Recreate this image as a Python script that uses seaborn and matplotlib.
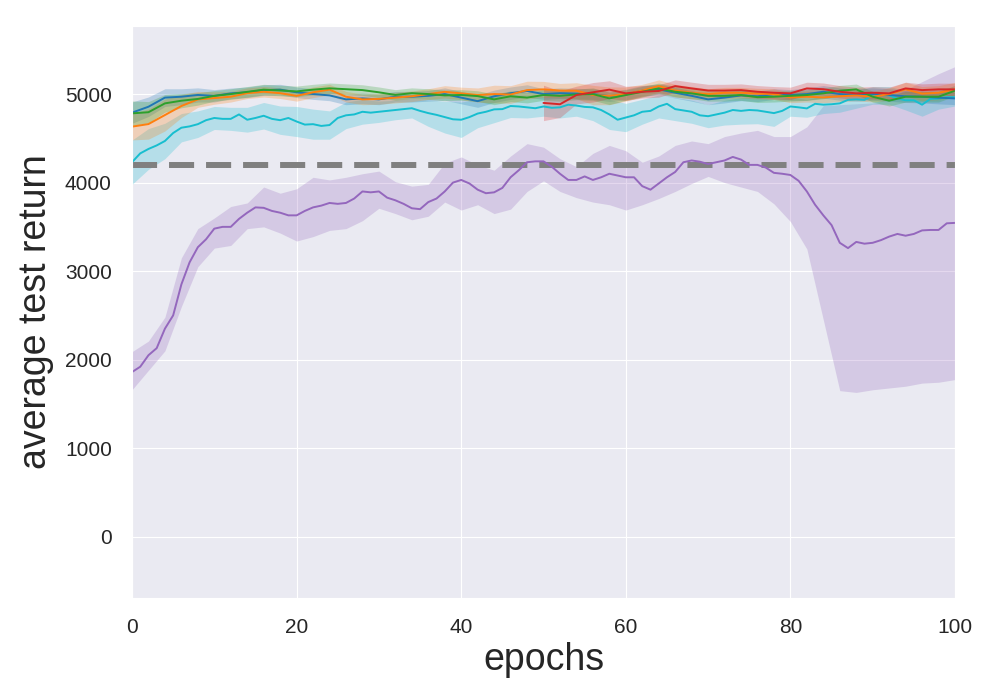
import numpy as np
import pandas as pd
import matplotlib
matplotlib.use("Agg")
import matplotlib.pyplot as plt
import seaborn as sns

sns.set_style("darkgrid")
plt.rcParams['font.family'] = ['Liberation Sans', 'DejaVu Sans']

# === 데이터 ===
epochs_1 = list(range(0, 101))        # 1 epoch 간격
epochs_2 = list(range(0, 101, 2))     # 2 epoch 간격
epochs_red = list(range(50, 101, 2))  # red 는 50 부터 시작

purple_mean = [
    1860, 1920, 2050, 2130, 2350, 2500, 2850, 3100, 3270, 3360,
    3480, 3500, 3500, 3590, 3660, 3720, 3715, 3680, 3660, 3630,
    3630, 3680, 3720, 3740, 3770, 3760, 3770, 3820, 3900, 3890,
    3900, 3830, 3800, 3760, 3710, 3700, 3780, 3820, 3900, 4000,
    4030, 3990, 3920, 3880, 3890, 3940, 4060, 4140, 4230, 4240,
    4240, 4180, 4100, 4030, 4030, 4070, 4030, 4060, 4100, 4080,
    4060, 4060, 3960, 3920, 3990, 4060, 4120, 4230, 4250, 4236,
    4210, 4230, 4250, 4290, 4260, 4200, 4200, 4170, 4110, 4100,
    4086, 4020, 3900, 3750, 3630, 3520, 3320, 3260, 3330, 3310,
    3320, 3350, 3390, 3420, 3400, 3420, 3460, 3465, 3465, 3540,
    3545,
]
purple_lo = [
    1660, 1880, 2100, 2600, 3050, 3260, 3290, 3480, 3500, 3430,
    3340, 3390, 3460, 3480, 3570, 3710, 3650, 3580, 3620, 3780,
    3690, 3750, 3650, 3700, 3900, 4020, 3900, 3830, 3780, 3750,
    3690, 3750, 3820, 3900, 3990, 4070, 4000, 3950, 3900, 3760,
    3560, 3250, 2450, 1650, 1630, 1660, 1680, 1700, 1735, 1745,
    1775,
]
purple_hi = [
    2090, 2210, 2480, 3150, 3480, 3600, 3730, 3770, 3950, 3880,
    3930, 4060, 4030, 4060, 4100, 4130, 4010, 3960, 3980, 4220,
    4290, 4200, 4140, 4300, 4440, 4400, 4270, 4180, 4330, 4420,
    4360, 4230, 4300, 4420, 4470, 4440, 4520, 4560, 4590, 4520,
    4520, 4630, 4870, 4880, 4890, 4900, 4950, 5050, 5140, 5230,
    5310,
]

cyan_mean = [
    4230, 4330, 4380, 4420, 4470, 4560, 4620, 4635, 4660, 4705,
    4730, 4720, 4720, 4770, 4710, 4730, 4755, 4720, 4705, 4730,
    4690, 4655, 4660, 4640, 4650, 4730, 4760, 4770, 4800, 4790,
    4800, 4810, 4820, 4830, 4840, 4810, 4785, 4765, 4740, 4715,
    4710, 4740, 4780, 4800, 4827, 4830, 4865, 4860, 4850, 4840,
    4860, 4845, 4850, 4880, 4870, 4855, 4850, 4820, 4770, 4710,
    4735, 4760, 4800, 4810, 4860, 4890, 4830, 4815, 4800, 4760,
    4750, 4770, 4790, 4820, 4810, 4820, 4815, 4800, 4785, 4810,
    4860, 4850, 4838, 4890, 4880, 4885, 4895, 4935, 4940, 4935,
    4985, 4990, 4985, 4950, 4930, 4930, 4880, 4945, 4950, 4965,
    4965,
]
cyan_sd = [
    250, 230, 200, 160, 150, 130, 130, 140, 150, 160,
    170, 170, 160, 150, 140, 120, 110, 110, 150, 180,
    200, 160, 150, 130, 120, 110, 120, 120, 150, 170,
    160, 140, 130, 130, 130, 130, 140, 150, 150, 150,
    110, 100, 100, 100, 100, 100, 100, 110, 130, 120,
    100,
]

blue_mean = [
    4790, 4857, 4960, 4970, 4990, 4980, 5008, 5020, 5045, 5050,
    5020, 5000, 4985, 4940, 4951, 4940, 4970, 4970, 4980, 5000,
    4960, 4920, 4975, 5010, 5035, 5000, 5010, 5005, 5000, 4977,
    4995, 5038, 5053, 5015, 4980, 4940, 4960, 4985, 4975, 5000,
    4990, 5000, 5026, 5000, 4990, 5000, 4990, 4975, 4970, 4959,
    4951,
]
blue_sd = [
    120, 110, 100, 90, 80, 70, 60, 60, 60, 60,
    60, 60, 60, 60, 60, 60, 60, 60, 60, 70,
    70, 70, 70, 70, 70, 60, 60, 60, 60, 60,
    60, 60, 60, 60, 60, 60, 60, 60, 60, 60,
    60, 70, 70, 70, 70, 70, 70, 70, 70, 70,
    70,
]

orange_mean = [
    4632, 4661, 4763, 4865, 4940, 4955, 4970, 5010, 5026, 5010,
    4980, 5020, 5050, 4970, 4940, 4945, 4960, 4975, 5000, 5025,
    5008, 4989, 5000, 4995, 5045, 5053, 5040, 5038, 4989, 4980,
    5000, 5040, 5090, 5040, 5015, 5000, 5015, 5015, 5005, 5000,
    4962, 4970, 4962, 4975, 4985, 4970, 5000, 5053, 5005, 5015,
    5053,
]
orange_sd = [
    150, 170, 180, 130, 90, 70, 60, 60, 60, 60,
    60, 60, 60, 60, 60, 60, 60, 60, 60, 70,
    70, 80, 100, 100, 100, 90, 80, 90, 110, 100,
    80, 70, 70, 70, 70, 60, 60, 60, 60, 60,
    60, 60, 60, 60, 60, 60, 70, 80, 80, 80,
    80,
]

green_mean = [
    4782, 4795, 4895, 4925, 4945, 4980, 5000, 5025, 5050, 5040,
    5030, 5050, 5065, 5055, 5045, 5020, 4990, 5010, 5000, 4985,
    4990, 4977, 4940, 4975, 4960, 4989, 4980, 4996, 5000, 4951,
    4989, 5026, 5064, 5026, 5008, 4980, 4980, 4989, 4965, 4970,
    4980, 4989, 5008, 5038, 5053, 4970, 4925, 4970, 4970, 4970,
    5038,
]
green_sd = [
    140, 120, 100, 80, 70, 60, 60, 60, 60, 60,
    60, 60, 60, 60, 60, 60, 60, 60, 60, 60,
    60, 60, 60, 60, 60, 60, 60, 60, 70, 70,
    60, 60, 60, 60, 60, 60, 60, 60, 60, 60,
    60, 60, 60, 60, 60, 60, 60, 60, 60, 60,
    60,
]

red_mean = [
    4900, 4885, 4989, 5020, 5050, 5008, 5026, 5035, 5090, 5064,
    5040, 5040, 5045, 5026, 5015, 5008, 5064, 5055, 5026, 5008,
    5015, 5008, 5064, 5045, 5053, 5053,
]
red_sd = [
    200, 150, 100, 110, 100, 80, 70, 70, 70, 70,
    70, 70, 70, 70, 70, 70, 70, 70, 70, 70,
    70, 70, 70, 70, 70, 70,
]

baseline = 4200

# === 그리기 ===
fig, ax = plt.subplots(figsize=(10, 7), dpi=100)
fig.subplots_adjust(left=0.132, right=0.955, bottom=0.146, top=0.963)

ax.axhline(baseline, color='gray', linestyle='--', dashes=(4.2, 2.0),
           linewidth=4.3, zorder=1.5)

lw = 1.4
a = 0.25

# purple
ax.fill_between(epochs_2, purple_lo, purple_hi, color='tab:purple', alpha=a, linewidth=0)
sns.lineplot(x=epochs_1, y=purple_mean, color='tab:purple', linewidth=lw, ax=ax)

# cyan
cm2 = np.array(cyan_mean)[::2]
ax.fill_between(epochs_2, cm2 - np.array(cyan_sd), cm2 + np.array(cyan_sd),
                color='tab:cyan', alpha=a, linewidth=0)
sns.lineplot(x=epochs_1, y=cyan_mean, color='tab:cyan', linewidth=lw, ax=ax)

def draw(xs, mean, sd, color):
    m = np.array(mean)
    s = np.array(sd)
    ax.fill_between(xs, m - s, m + s, color=color, alpha=a, linewidth=0)
    sns.lineplot(x=xs, y=mean, color=color, linewidth=lw, ax=ax)

draw(epochs_2, blue_mean, blue_sd, 'tab:blue')
draw(epochs_2, orange_mean, orange_sd, 'tab:orange')
draw(epochs_2, green_mean, green_sd, 'tab:green')
draw(epochs_red, red_mean, red_sd, 'tab:red')

ax.set_xlim(0, 100)
ax.set_ylim(-690, 5770)
ax.set_xticks([0, 20, 40, 60, 80, 100])
ax.set_yticks([0, 1000, 2000, 3000, 4000, 5000])
ax.tick_params(axis='both', labelsize=15, pad=11, colors='#262626')
ax.set_xlabel('epochs', fontsize=27, color='#262626', labelpad=4)
ax.set_ylabel('average test return', fontsize=27, color='#262626', labelpad=8)

fig.savefig('out.png', dpi=100)
